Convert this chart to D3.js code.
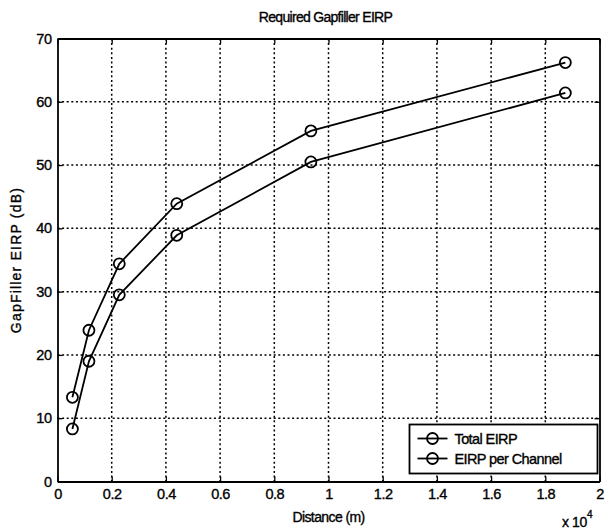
<!DOCTYPE html>
<html>
<head>
<meta charset="utf-8">
<script src="https://cdn.jsdelivr.net/npm/d3@7"></script>
<style>
  body { margin: 0; background: #fff; }
  svg { display: block; }
  text { font-family: "Liberation Sans", Arial, sans-serif; fill: #000; stroke: #000; stroke-width: 0.35px; }
</style>
</head>
<body>
<svg id="chart" width="606" height="530"></svg>
<script>
// Distance in units of 10^4 m, EIRP in dB
const distance = [0.055, 0.116, 0.228, 0.44, 0.935, 1.874];
const totalEirp = [13.3, 23.9, 34.4, 43.9, 55.4, 66.2];
const eirpPerChannel = [8.3, 19.0, 29.5, 38.9, 50.5, 61.4];
const seriesNames = ["Total EIRP", "EIRP per Channel"];
const xTicks = [0, 0.2, 0.4, 0.6, 0.8, 1, 1.2, 1.4, 1.6, 1.8, 2];
const yTicks = [0, 10, 20, 30, 40, 50, 60, 70];

const svg = d3.select("#chart");
const plotLeft = 57.5, plotRight = 599.5, plotTop = 38.5, plotBottom = 481.5;

const x = d3.scaleLinear().domain([0, 2]).range([plotLeft, plotRight]);
const y = d3.scaleLinear().domain([0, 70]).range([plotBottom, plotTop]);

// dotted grid
const grid = svg.append("g").attr("stroke", "#000").attr("stroke-width", 1.5)
  .attr("stroke-dasharray", "2,2.6");
grid.selectAll(".gx").data(xTicks.slice(1, -1)).join("line")
  .attr("x1", d => x(d)).attr("x2", d => x(d)).attr("y1", plotTop).attr("y2", plotBottom);
grid.selectAll(".gy").data(yTicks.slice(1, -1)).join("line")
  .attr("y1", d => y(d)).attr("y2", d => y(d)).attr("x1", plotLeft).attr("x2", plotRight);

// axes with inward ticks
const fmt = d => String(d);
const xAxis = svg.append("g").attr("transform", `translate(0,${plotBottom})`)
  .call(d3.axisBottom(x).tickValues(xTicks).tickFormat(fmt).tickSizeInner(-5).tickSizeOuter(0).tickPadding(7));
const xAxisTop = svg.append("g").attr("transform", `translate(0,${plotTop})`)
  .call(d3.axisTop(x).tickValues(xTicks).tickFormat("").tickSizeInner(-5).tickSizeOuter(0));
const yAxis = svg.append("g").attr("transform", `translate(${plotLeft},0)`)
  .call(d3.axisLeft(y).tickValues(yTicks).tickFormat(fmt).tickSizeInner(-5).tickSizeOuter(0).tickPadding(6));
const yAxisRight = svg.append("g").attr("transform", `translate(${plotRight},0)`)
  .call(d3.axisRight(y).tickValues(yTicks).tickFormat("").tickSizeInner(-5).tickSizeOuter(0));

[xAxis, xAxisTop, yAxis, yAxisRight].forEach(g => {
  g.select(".domain").attr("stroke", "#000").attr("stroke-width", 1.8);
  g.selectAll(".tick line").attr("stroke", "#000").attr("stroke-width", 1.3);
  g.selectAll(".tick text").attr("font-size", 14.5).attr("letter-spacing", "-0.5px")
    .attr("font-family", "Liberation Sans, Arial, sans-serif").attr("fill", "#000");
});

// series lines and circle markers
const line = d3.line().x(d => x(d[0])).y(d => y(d[1]));
const series = [
  distance.map((d, i) => [d, totalEirp[i]]),
  distance.map((d, i) => [d, eirpPerChannel[i]])
];
series.forEach(pts => {
  svg.append("path").datum(pts).attr("d", line)
    .attr("fill", "none").attr("stroke", "#000").attr("stroke-width", 1.8);
  svg.append("g").selectAll("circle").data(pts).join("circle")
    .attr("cx", d => x(d[0])).attr("cy", d => y(d[1])).attr("r", 5.5)
    .attr("fill", "none").attr("stroke", "#000").attr("stroke-width", 1.8);
});

// titles and labels
svg.append("text").attr("x", (plotLeft + plotRight) / 2 - 3).attr("y", 22).attr("text-anchor", "middle")
  .attr("font-size", 14).attr("letter-spacing", "-0.7px").text("Required Gapfiller EIRP");
svg.append("text").attr("x", (plotLeft + plotRight) / 2).attr("y", 522).attr("text-anchor", "middle")
  .attr("font-size", 14).attr("letter-spacing", "-0.6px").text("Distance (m)");
svg.append("text").attr("transform", `translate(21,${(plotTop + plotBottom) / 2}) rotate(-90)`)
  .attr("text-anchor", "middle").attr("font-size", 14).attr("letter-spacing", "1.2px")
  .text("GapFiller EIRP (dB)");
const exp = svg.append("text").attr("x", 562).attr("y", 527).attr("font-size", 14).attr("letter-spacing", "-0.4px");
exp.append("tspan").text("x 10");
exp.append("tspan").attr("dy", -9).attr("font-size", 10).text("4");

// legend
const lg = svg.append("g");
const lx = 409.5, ly = 424.5, lw = 188, lh = 49;
lg.append("rect").attr("x", lx).attr("y", ly).attr("width", lw).attr("height", lh)
  .attr("fill", "#fff").attr("stroke", "#000").attr("stroke-width", 1.8);
seriesNames.forEach((name, i) => {
  const yy = ly + 14 + i * 20;
  lg.append("line").attr("x1", lx + 8).attr("x2", lx + 38).attr("y1", yy).attr("y2", yy)
    .attr("stroke", "#000").attr("stroke-width", 1.8);
  lg.append("circle").attr("cx", lx + 23).attr("cy", yy).attr("r", 5.5)
    .attr("fill", "none").attr("stroke", "#000").attr("stroke-width", 1.8);
  lg.append("text").attr("x", lx + 45).attr("y", yy + 5).attr("font-size", 14.5)
    .attr("letter-spacing", "-0.6px").text(name);
});
</script>
</body>
</html>
